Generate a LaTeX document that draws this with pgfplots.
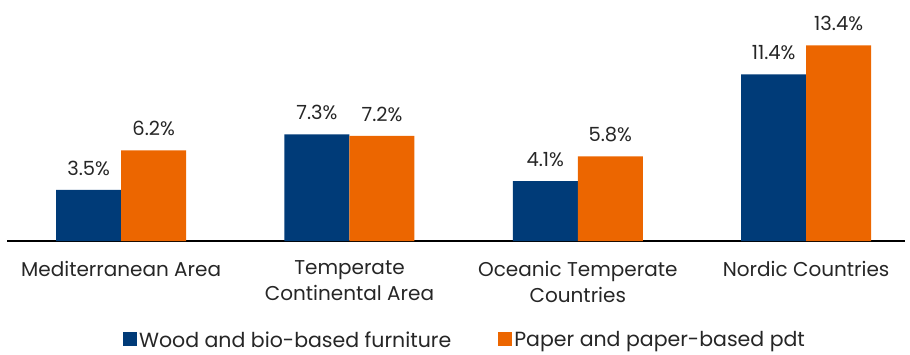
\documentclass[border=0pt]{standalone}
\usepackage{pgfplots}
\pgfplotsset{compat=1.18}
\usepackage{fontspec}
\setmainfont{Poppins}
\definecolor{woodblue}{RGB}{0,59,120}
\definecolor{paperorange}{RGB}{236,102,0}
\begin{document}
\begin{tikzpicture}[x=1pt,y=1pt]
\useasboundingbox (0,0) rectangle (910,354);
\begin{axis}[
  at={(7pt,113pt)}, anchor=south west,
  scale only axis, width=898pt, height=241pt,
  ybar=0pt, bar width=65pt,
  xmin=-0.5, xmax=3.433, ymin=0, ymax=16.5,
  axis y line=none,
  axis x line*=bottom,
  axis line style={black, line width=1.3pt, -},
  xtick=data, xtick style={draw=none},
  xticklabels={Mediterranean Area,{Temperate\\Continental Area},{Oceanic Temperate\\Countries},Nordic Countries},
  xticklabel style={align=center, font=\fontsize{20}{26}\selectfont, text=black!85, yshift=-12pt},
  /pgf/number format/assume math mode=true,
  nodes near coords={\pgfmathprintnumber[fixed,fixed zerofill,precision=1,assume math mode=true]{\pgfplotspointmeta}\%},
  nodes near coords style={font=\fontsize{19.5}{22}\selectfont, text=black!85, yshift=11pt},
  legend style={draw=none, at={(458pt,-99pt)}, anchor=center, font=\fontsize{20.5}{22}\selectfont, text=black!85,
    inner sep=0pt, legend columns=2, /tikz/every even column/.append style={column sep=45pt}},
  legend image code/.code={\fill[#1] (-2pt,-6pt) rectangle (12pt,8pt);},
]
\addplot[fill=woodblue, draw=none] coordinates {(0,3.5) (1,7.3) (2,4.1) (3,11.4)};
\addplot[fill=paperorange, draw=none] coordinates {(0,6.2) (1,7.2) (2,5.8) (3,13.4)};
\legend{Wood and bio-based furniture, Paper and paper-based pdt}
\end{axis}
\end{tikzpicture}
\end{document}
